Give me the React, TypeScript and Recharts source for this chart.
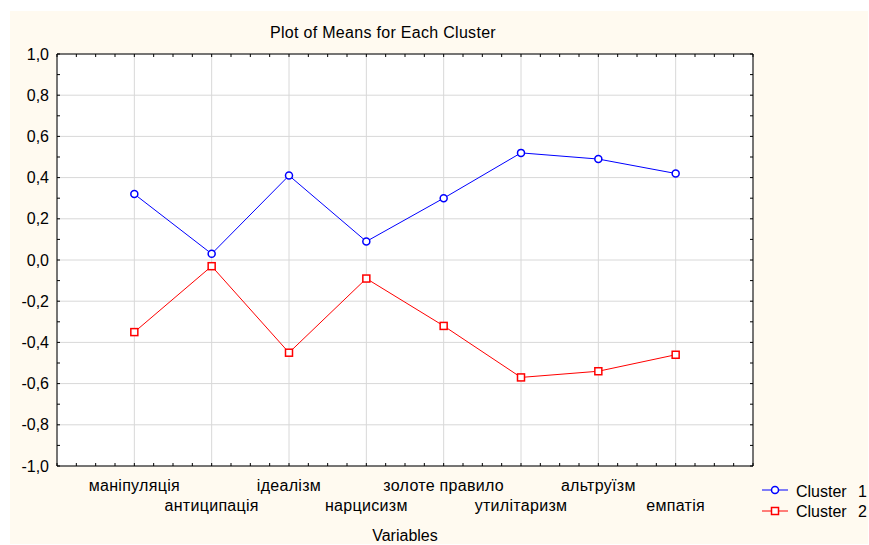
import { CartesianGrid, Label, Line, LineChart, XAxis, YAxis } from 'recharts';

const categories = [
	'маніпуляція',
	'антиципація',
	'ідеалізм',
	'нарцисизм',
	'золоте правило',
	'утилітаризм',
	'альтруїзм',
	'емпатія',
];
const cluster1 = [0.32, 0.03, 0.41, 0.09, 0.3, 0.52, 0.49, 0.42];
const cluster2 = [-0.35, -0.03, -0.45, -0.09, -0.32, -0.57, -0.54, -0.46];
const yTicks = [-1, -0.8, -0.6, -0.4, -0.2, 0, 0.2, 0.4, 0.6, 0.8, 1];
const yMinorTicks = [
	-1, -0.9, -0.8, -0.7, -0.6, -0.5, -0.4, -0.3, -0.2, -0.1, 0, 0.1, 0.2, 0.3, 0.4, 0.5, 0.6, 0.7, 0.8, 0.9, 1,
];
const xTicks = [1, 2, 3, 4, 5, 6, 7, 8];
const xMinorTicks = Array.from({ length: 37 }, (_, i) => i * 0.25);

const data = categories.map((name, i) => ({
	idx: i + 1,
	name,
	c1: cluster1[i],
	c2: cluster2[i],
}));

const FONT = '"Liberation Sans", Arial, sans-serif';

const EmptyTick = () => <g />;

const CategoryTick = (props: any) => {
	const { x, y, payload, index } = props;
	return (
		<text
			x={x}
			y={y + (index % 2 === 0 ? 25 : 45)}
			textAnchor="middle"
			fill="#000"
			fontSize={16}
			letterSpacing={0.3}
			fontFamily={FONT}
		>
			{categories[payload.value - 1]}
		</text>
	);
};

const SquareDot = (props: any) => {
	const { cx, cy } = props;
	if (cx == null || cy == null) return <g />;
	return <rect x={cx - 3.5} y={cy - 3.5} width={7} height={7} fill="#fff" stroke="#FF0000" strokeWidth={1.5} />;
};

export default function App() {
	return (
		<div
			style={{
				position: 'absolute',
				left: 10,
				top: 11,
				width: 858,
				height: 533,
				background: '#FFFAF0',
				fontFamily: FONT,
			}}
		>
			<LineChart width={858} height={533} data={data} margin={{ top: 43, right: 115, bottom: 0, left: 0 }}>
				<CartesianGrid stroke="#d8d8d8" fill="#fff" />
				<XAxis
					dataKey="idx"
					type="number"
					domain={[0, 9]}
					ticks={xTicks}
					interval={0}
					height={78}
					tickSize={0}
					tickMargin={0}
					tick={<CategoryTick />}
					axisLine={{ stroke: '#000' }}
				>
					<Label value="Variables" position="insideBottom" offset={3} fill="#000" fontSize={16} />
				</XAxis>
				<XAxis
					xAxisId="minB"
					dataKey="idx"
					type="number"
					domain={[0, 9]}
					allowDataOverflow
					ticks={xMinorTicks}
					interval={0}
					mirror
					tickSize={3}
					tick={EmptyTick}
					tickLine={{ stroke: '#000' }}
					axisLine={false}
				/>
				<XAxis
					xAxisId="minT"
					dataKey="idx"
					orientation="top"
					type="number"
					domain={[0, 9]}
					allowDataOverflow
					ticks={xMinorTicks}
					interval={0}
					mirror
					tickSize={3}
					tick={EmptyTick}
					tickLine={{ stroke: '#000' }}
					axisLine={{ stroke: '#000' }}
				/>
				<YAxis
					type="number"
					domain={[-1, 1]}
					ticks={yTicks}
					interval={0}
					width={47}
					tickSize={0}
					tickMargin={8}
					tickFormatter={(v: number) => v.toFixed(1).replace('.', ',')}
					tick={{ fill: '#000', fontSize: 16 }}
					axisLine={{ stroke: '#000' }}
				/>
				<YAxis
					yAxisId="minL"
					type="number"
					domain={[-1, 1]}
					allowDataOverflow
					ticks={yMinorTicks}
					interval={0}
					mirror
					tickSize={3}
					tick={EmptyTick}
					tickLine={{ stroke: '#000' }}
					axisLine={false}
				/>
				<YAxis
					yAxisId="minR"
					orientation="right"
					type="number"
					domain={[-1, 1]}
					allowDataOverflow
					ticks={yMinorTicks}
					interval={0}
					mirror
					tickSize={3}
					tick={EmptyTick}
					tickLine={{ stroke: '#000' }}
					axisLine={{ stroke: '#000' }}
				/>
				<Line
					dataKey="c1"
					stroke="#0000FF"
					strokeWidth={1}
					dot={{ r: 3.5, stroke: '#0000FF', strokeWidth: 1.5, fill: '#fff' }}
					isAnimationActive={false}
				/>
				<Line dataKey="c2" stroke="#FF0000" strokeWidth={1} dot={<SquareDot />} isAnimationActive={false} />
			</LineChart>
			<svg
				width={858}
				height={533}
				style={{ position: 'absolute', left: 0, top: 0, pointerEvents: 'none', fontFamily: FONT }}
			>
				<text x={373} y={27} textAnchor="middle" fontSize={16} letterSpacing={0.3} fill="#000">
					Plot of Means for Each Cluster
				</text>
				<line x1={752} x2={778} y1={479} y2={479} stroke="#0000FF" strokeWidth={1} />
				<circle cx={765} cy={479} r={3.5} stroke="#0000FF" strokeWidth={1.5} fill="#fff" />
				<text x={786} y={486} fontSize={16} fill="#000">
					Cluster<tspan x={848}>1</tspan>
				</text>
				<line x1={752} x2={778} y1={500} y2={500} stroke="#FF0000" strokeWidth={1} />
				<rect x={761.5} y={496.5} width={7} height={7} stroke="#FF0000" strokeWidth={1.5} fill="#fff" />
				<text x={786} y={506} fontSize={16} fill="#000">
					Cluster<tspan x={848}>2</tspan>
				</text>
			</svg>
		</div>
	);
}
